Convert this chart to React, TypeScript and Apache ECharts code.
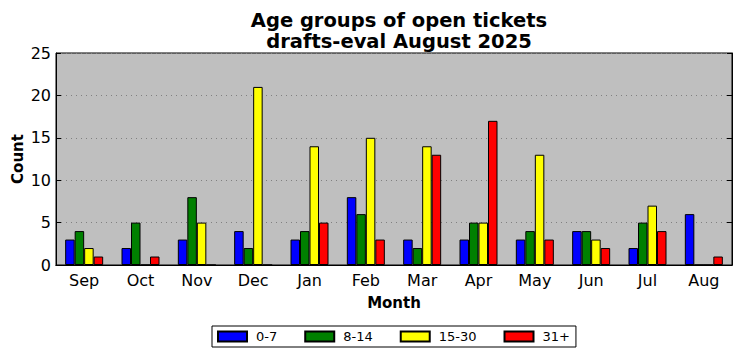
import React, { useEffect, useRef } from "react";
import * as echarts from "echarts";

const months = ["Sep", "Oct", "Nov", "Dec", "Jan", "Feb", "Mar", "Apr", "May", "Jun", "Jul", "Aug"];
const age0to7 = [3, 2, 3, 4, 3, 8, 3, 3, 3, 4, 2, 6];
const age8to14 = [4, 5, 8, 2, 4, 6, 2, 5, 4, 4, 5, 0];
const age15to30 = [2, 0, 5, 21, 14, 15, 14, 5, 13, 3, 7, 0];
const age31plus = [1, 1, 0, 0, 5, 3, 13, 17, 3, 2, 4, 1];
const seriesNames = ["0-7", "8-14", "15-30", "31+"];
const seriesColors = ["#0000ff", "#008000", "#ffff00", "#ff0000"];
const yTicks = [0, 5, 10, 15, 20, 25];

const FONT = "DejaVu Sans";

export default function App() {
  const ref = useRef<HTMLDivElement>(null);
  useEffect(() => {
    document.body.style.margin = "0";
    const chart = echarts.init(ref.current!, null, { renderer: "svg" });
    const data = [age0to7, age8to14, age15to30, age31plus];
    chart.setOption({
      animation: false,
      backgroundColor: "#ffffff",
      textStyle: { fontFamily: FONT },
      title: {
        text: "Age groups of open tickets\ndrafts-eval August 2025",
        left: 394,
        textAlign: "center",
        top: 5,
        textStyle: { fontFamily: FONT, fontSize: 19.5, fontWeight: "bold", color: "#000", lineHeight: 21 },
      },
      legend: {
        top: 326,
        left: 212,
        itemWidth: 29,
        itemHeight: 10,
        itemGap: 27,
        padding: [4, 6, 4, 5],
        borderColor: "#000",
        borderWidth: 1,
        icon: "rect",
        textStyle: { fontFamily: FONT, fontSize: 13, color: "#000", padding: [0, 0, 0, 4] },
        data: seriesNames,
      },
      grid: {
        left: 56,
        right: 10,
        top: 53,
        bottom: 96,
        containLabel: false,
        outerBoundsMode: "none",
        show: true,
        backgroundColor: "#bfbfbf",
        borderColor: "#000",
        borderWidth: 1,
      },
      xAxis: [
        {
          type: "category",
          data: months,
          boundaryGap: true,
          name: "Month",
          nameLocation: "middle",
          nameGap: 30,
          nameMoveOverlap: false,
          nameTextStyle: { fontFamily: FONT, fontSize: 15, fontWeight: "bold", color: "#000" },
          axisLine: { lineStyle: { color: "#000" } },
          axisTick: { alignWithLabel: true, inside: true, length: 5, lineStyle: { color: "#000" } },
          axisLabel: { fontFamily: FONT, fontSize: 16, color: "#000", margin: 7 },
        },
        {
          type: "category",
          data: months,
          position: "top",
          boundaryGap: true,
          axisLine: { lineStyle: { color: "#000" } },
          axisTick: { alignWithLabel: true, inside: true, length: 5, lineStyle: { color: "#000" } },
          axisLabel: { show: false },
        },
      ],
      yAxis: [
        {
          type: "value",
          min: 0,
          max: 25,
          interval: 5,
          name: "Count",
          nameLocation: "middle",
          nameGap: 31,
          nameMoveOverlap: false,
          nameTextStyle: { fontFamily: FONT, fontSize: 15, fontWeight: "bold", color: "#000" },
          axisLine: { show: true, lineStyle: { color: "#000" } },
          axisTick: { show: true, inside: true, length: 5, lineStyle: { color: "#000" } },
          axisLabel: {
            fontFamily: FONT,
            fontSize: 16,
            color: "#000",
            margin: 5,
            formatter: (v: number) => (yTicks.includes(v) ? String(v) : ""),
          },
          splitLine: { show: true, lineStyle: { color: "#808080", type: [1, 4], width: 1 } },
        },
        {
          type: "value",
          min: 0,
          max: 25,
          interval: 5,
          position: "right",
          axisLine: { show: true, lineStyle: { color: "#000" } },
          axisTick: { show: true, inside: true, length: 5, lineStyle: { color: "#000" } },
          axisLabel: { show: false },
          splitLine: { show: false },
        },
      ],
      series: seriesNames.map((name, i) => ({
        name,
        type: "bar",
        data: data[i],
        barWidth: 9.5,
        barGap: "0%",
        itemStyle: { color: seriesColors[i], borderColor: "#000", borderWidth: 1 },
      })),
    });
    return () => chart.dispose();
  }, []);
  return <div ref={ref} style={{ width: 742, height: 361 }} />;
}
